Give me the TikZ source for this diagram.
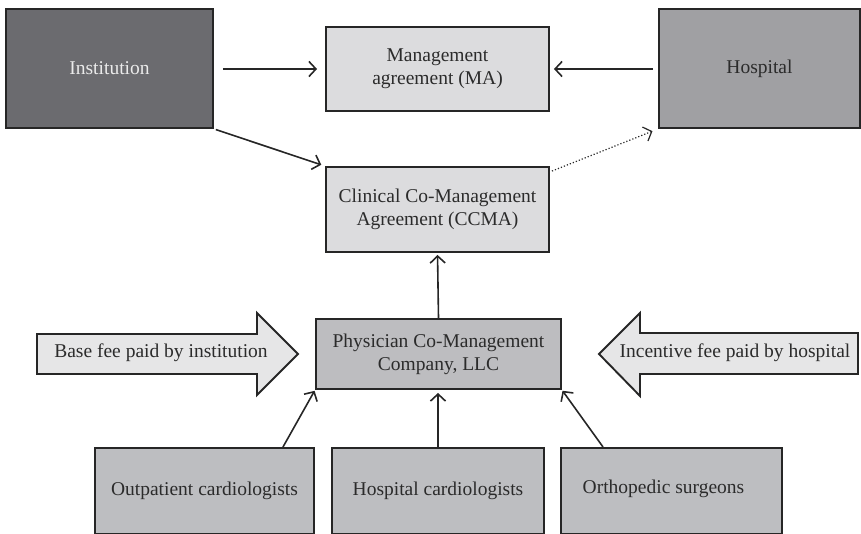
\documentclass[tikz,border=0pt]{standalone}
\usepackage{fontspec}
\setmainfont{Liberation Serif}
\usetikzlibrary{arrows.meta,calc}
\definecolor{instfill}{HTML}{6B6B6F}
\definecolor{agreefill}{HTML}{DCDCDE}
\definecolor{hospfill}{HTML}{A0A0A3}
\definecolor{compfill}{HTML}{BDBDC0}
\definecolor{docfill}{HTML}{BDBEC1}
\definecolor{feefill}{HTML}{E6E6E7}
\definecolor{ink}{HTML}{2B2B2B}
\definecolor{edge}{HTML}{262626}
\begin{document}
\begin{tikzpicture}[x=1pt,y=-1pt,
  box/.style={draw=edge,line width=1.9pt,rectangle,align=center,text=ink,
    font=\fontsize{19.5}{23}\selectfont,inner sep=0pt},
  link/.style={draw=edge,line width=1.6pt,-{Straight Barb[length=7pt,width=15pt,line width=1.6pt]}},
  feearrow/.style={draw=edge,line width=1.9pt,fill=feefill,line join=miter},
  feetext/.style={text=ink,font=\fontsize{19.5}{23}\selectfont,inner sep=0pt}]
\useasboundingbox (0,0) rectangle (861,533);

% top row
\node[box,fill=instfill,text=white!92!black,minimum width=207pt,minimum height=119pt] (inst) at (109.5,68.5) {Institution};
\node[box,fill=agreefill,minimum width=223pt,minimum height=84pt] (ma) at (437.5,69) {Management\\agreement (MA)};
\node[box,fill=hospfill,minimum width=201pt,minimum height=119pt] (hosp) at (759.5,68.5) {Hospital};

% agreements and company
\node[box,fill=agreefill,minimum width=223pt,minimum height=85pt] (ccma) at (437.5,209.5) {Clinical Co-Management\\Agreement (CCMA)};
\node[box,fill=compfill,minimum width=245pt,minimum height=70pt] (pcmc) at (438.5,354) {Physician Co-Management\\Company, LLC};

% physician groups
\node[box,fill=docfill,minimum width=219pt,minimum height=86pt] (outp) at (204.5,491) {Outpatient cardiologists};
\node[box,fill=docfill,minimum width=212pt,minimum height=86pt] (hcard) at (438,491) {Hospital cardiologists};
\node[box,fill=docfill,minimum width=221pt,minimum height=86pt,
  label={[feetext,xshift=-8pt,yshift=2pt]center:Orthopedic surgeons}] (ortho) at (671.5,491) {};

% fee arrows
\draw[feearrow] (37,334) -- (257,334) -- (257,313) -- (298,354) -- (257,395) -- (257,374) -- (37,374) -- cycle;
\node[feetext] (basefee) at (161,353) {Base fee paid by institution};
\draw[feearrow] (858,333) -- (640,333) -- (640,313) -- (599,354) -- (640,396) -- (640,374) -- (858,374) -- cycle;
\node[feetext] (incfee) at (735,353) {Incentive fee paid by hospital};

% connectors
\draw[link,shorten <=9pt,shorten >=8pt] (inst.east |- ma.west) -- (ma.west);
\draw[link,shorten <=5pt,shorten >=4pt] (hosp.west |- ma.east) -- (ma.east);
\draw[link,shorten <=2pt,shorten >=4pt] (inst.south east) -- (ccma.north west);
\draw[edge,line width=1.2pt,dotted,-{Straight Barb[length=7pt,width=15pt,line width=1.2pt]},shorten >=6pt]
  ($(ccma.north east)+(2,5)$) -- (hosp.south west);
\draw[link,shorten >=2pt] (pcmc.north) -- (ccma.south);
\draw[link,shorten >=1pt] ($(outp.north east)+(-32,0)$) -- (pcmc.south west);
\draw[link,shorten >=3pt] (hcard.north) -- (pcmc.south -| hcard.north);
\draw[link,shorten >=1pt] ($(ortho.north west)+(43,0)$) -- (pcmc.south east);
\end{tikzpicture}
\end{document}
